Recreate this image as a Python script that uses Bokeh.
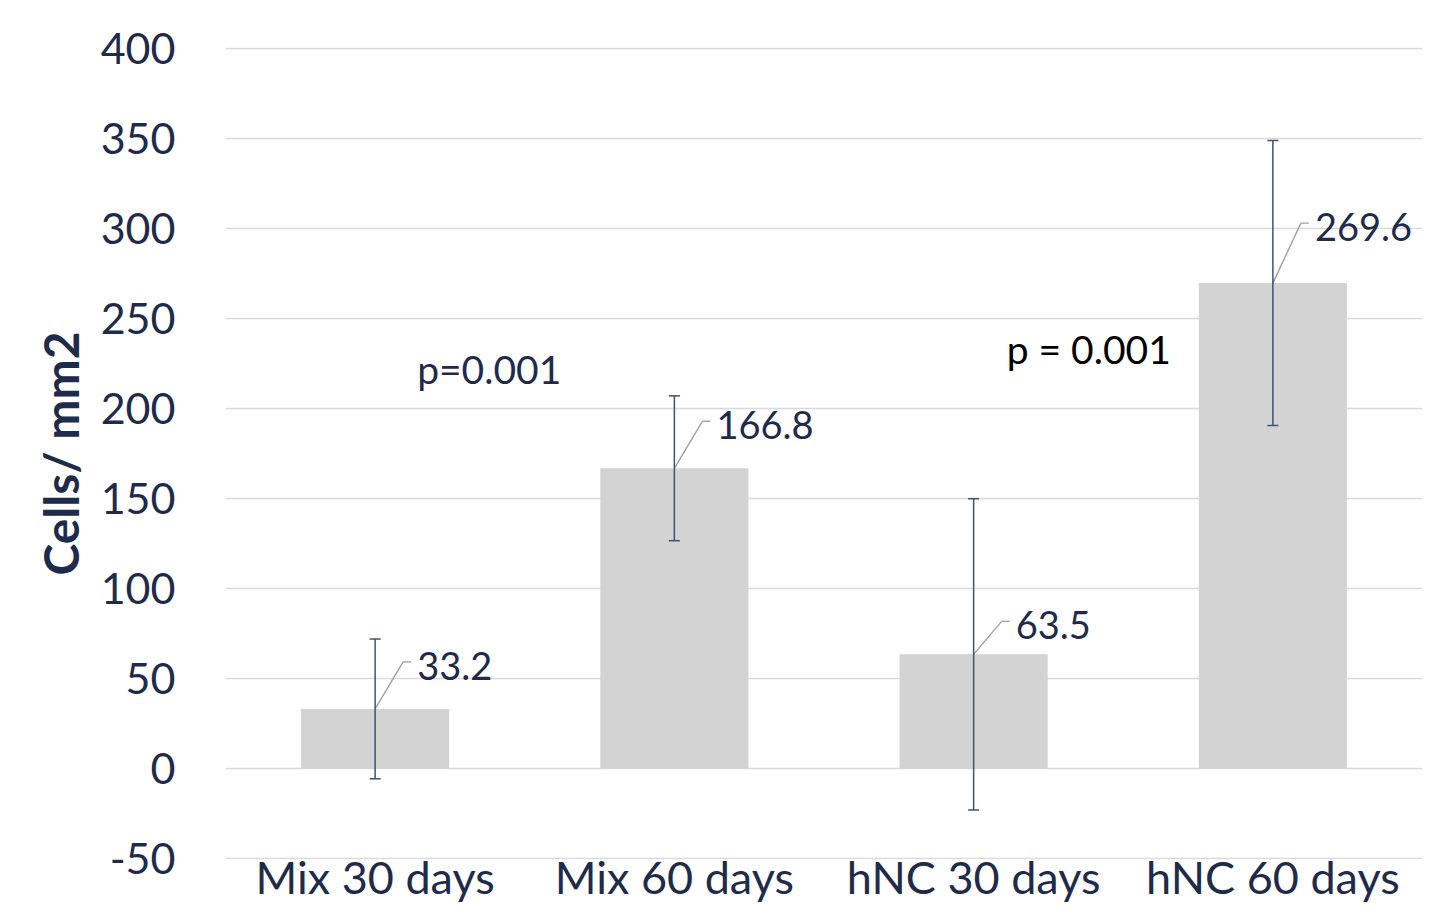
from bokeh.plotting import figure
from bokeh.models import ColumnDataSource, Whisker, TeeHead, FixedTicker
from bokeh.transform import dodge
from bokeh.core.properties import value
from bokeh.embed import file_html
from bokeh.resources import INLINE

# ---- data ----
categories = ["Mix 30 days", "Mix 60 days", "hNC 30 days", "hNC 60 days"]
means = [33.2, 166.8, 63.5, 269.6]
errors = [38.8, 40.2, 86.4, 79.1]
value_labels = ["33.2", "166.8", "63.5", "269.6"]
y_ticks = [-50, 0, 50, 100, 150, 200, 250, 300, 350, 400]
y_tick_labels = ["-50", "0", "50", "100", "150", "200", "250", "300", "350", "400"]
p_texts = ["p=0.001", "p = 0.001"]
p_text_cats = ["Mix 30 days", "hNC 30 days"]
p_text_y = [222, 233]

# ---- style ----
FONT = "Lato"
NAVY = "#1f2b4a"
FRAME_W, FRAME_H = 1197, 812
Y_MIN, Y_MAX = -50.4, 400.4
upp = (Y_MAX - Y_MIN) / FRAME_H          # data units per pixel
cat_px = FRAME_W / len(categories)      # pixels per category
label_rise_px = [47, 47, 33, 60]
p_text_dx_px = [42, 33]
p_text_colors = [NAVY, "#000000"]

lead_y = [m + r * upp for m, r in zip(means, label_rise_px)]
text_y = [ly - 4 * upp for ly in lead_y]

src = ColumnDataSource(dict(
    cat=categories, mean=means,
    upper=[m + e for m, e in zip(means, errors)],
    lower=[m - e for m, e in zip(means, errors)],
    lead_y=lead_y, text_y=text_y, label=value_labels,
))

p = figure(x_range=categories, y_range=(Y_MIN, Y_MAX),
           frame_width=FRAME_W, frame_height=FRAME_H,
           min_border_left=225, min_border_top=47, min_border_right=23,
           min_border_bottom=44,
           output_backend="svg", toolbar_location=None, tools="")
p.outline_line_color = None
p.background_fill_color = "white"
p.border_fill_color = "white"

p.vbar(x="cat", top="mean", width=0.495, source=src,
       fill_color="#d3d3d3", line_color=None)

# leader lines
dxa = 28 / cat_px
dxb = 36 / cat_px
dxt = 42 / cat_px
p.segment(x0=dodge("cat", 0, range=p.x_range), y0="mean",
          x1=dodge("cat", dxa, range=p.x_range), y1="lead_y",
          source=src, line_color="#a0a0a0", line_width=1.4)
p.segment(x0=dodge("cat", dxa, range=p.x_range), y0="lead_y",
          x1=dodge("cat", dxb, range=p.x_range), y1="lead_y",
          source=src, line_color="#a0a0a0", line_width=1.4)

w = Whisker(base="cat", upper="upper", lower="lower", source=src,
            line_color="#3e5275", line_width=1.5, level="overlay",
            upper_head=TeeHead(size=11, line_color="#3e5275", line_width=1.5),
            lower_head=TeeHead(size=11, line_color="#3e5275", line_width=1.5))
p.add_layout(w)

p.text(x=dodge("cat", dxt, range=p.x_range), y="text_y", text="label",
       source=src, text_font=value(FONT), text_font_size="38px",
       text_color=NAVY, text_align="left", text_baseline="middle")

for t, c, yy, dx, col in zip(p_texts, p_text_cats, p_text_y, p_text_dx_px, p_text_colors):
    s = ColumnDataSource(dict(x=[c], y=[yy], t=[t]))
    p.text(x=dodge("x", dx / cat_px, range=p.x_range), y="y", text="t", source=s,
           text_font=value(FONT), text_font_size="39px", text_color=col,
           text_align="left", text_baseline="middle")

# axes
p.yaxis.ticker = FixedTicker(ticks=y_ticks)
p.yaxis.major_label_overrides = {t: l for t, l in zip(y_ticks, y_tick_labels)}
p.yaxis.axis_line_color = None
p.yaxis.major_tick_line_color = None
p.yaxis.minor_tick_line_color = None
p.yaxis.major_tick_out = 0
p.yaxis.major_tick_in = 0
p.yaxis.major_label_standoff = 50
p.yaxis.major_label_text_font = FONT
p.yaxis.major_label_text_font_size = "43px"
p.yaxis.major_label_text_color = NAVY
p.yaxis.axis_label = "Cells/ mm2"
p.yaxis.axis_label_text_font = FONT
p.yaxis.axis_label_text_font_style = "bold"
p.yaxis.axis_label_text_font_size = "48px"
p.yaxis.axis_label_text_color = NAVY
p.yaxis.axis_label_standoff = 9

p.xaxis.axis_line_color = None
p.xaxis.major_tick_line_color = None
p.xaxis.major_tick_out = 0
p.xaxis.major_tick_in = 0
p.xaxis.major_label_standoff = -10
p.xaxis.major_label_text_font = FONT
p.xaxis.major_label_text_font_size = "45px"
p.xaxis.major_label_text_color = NAVY

p.xgrid.grid_line_color = None
p.ygrid.grid_line_color = "#d9d9d9"
p.ygrid.grid_line_width = 1.5

open("out.html", "w").write(file_html(p, INLINE))
